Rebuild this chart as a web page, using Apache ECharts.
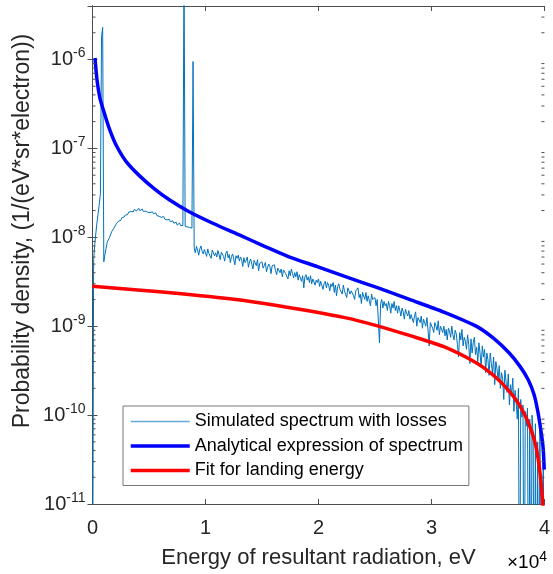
<!DOCTYPE html>
<html><head><meta charset="utf-8">
<script src="https://cdn.jsdelivr.net/npm/echarts@6/dist/echarts.min.js"></script>
<style>html,body{margin:0;padding:0;background:#fff}#c{width:553px;height:574px}</style>
</head><body><div id="c"></div>
<script>
const FONT = '"Liberation Sans", Arial, Helvetica, sans-serif';

// x axis: 0..4 (x10^4 eV)
const xTicks = [0, 10000, 20000, 30000, 40000];
// log y axis limits
const yMin = 1e-11, yMax = 4e-6;

const seriesNames = ['Simulated spectrum with losses', 'Analytical expression of spectrum', 'Fit for landing energy'];
const xTitle = 'Energy of resultant radiation, eV';
const yTitle = 'Probability density, (1/(eV*sr*electron))';

// Analytical expression of spectrum (eV, 1/(eV*sr*electron))
const analyticEnergy = [219, 400, 658, 1097, 1535, 2123, 3000, 4167, 5483, 6798, 8553, 10746, 12939, 15132, 17325, 19956, 22325, 25219, 28114, 31096, 33991, 35482, 36886, 37851, 38553, 39079, 39430, 39737, 39895, 39982];
const analyticValue = [1.04e-6, 5.9e-7, 3.69e-7, 2.38e-7, 1.61e-7, 1.07e-7, 7.05e-8, 4.91e-8, 3.51e-8, 2.64e-8, 1.94e-8, 1.42e-8, 1.07e-8, 8.02e-9, 6.08e-9, 4.66e-9, 3.63e-9, 2.71e-9, 1.99e-9, 1.44e-9, 9.95e-10, 7.33e-10, 5.0e-10, 3.51e-10, 2.51e-10, 1.70e-10, 1.07e-10, 6.04e-11, 4.1e-11, 2.44e-11];

// Fit for landing energy
const fitEnergy = [0, 5921, 12325, 16447, 22325, 25219, 28114, 31096, 33991, 35307, 36184, 37061, 37763, 38377, 38904, 39254, 39518, 39693, 39825, 39912];
const fitValue = [2.81e-9, 2.44e-9, 2.02e-9, 1.70e-9, 1.25e-9, 1.01e-9, 7.82e-10, 5.88e-10, 3.86e-10, 2.93e-10, 2.32e-10, 1.74e-10, 1.31e-10, 9.38e-11, 6.36e-11, 4.43e-11, 2.78e-11, 1.79e-11, 1.12e-11, 7.6e-12];

// Simulated spectrum with losses: 100 eV bins from 0 eV (1e-13 = empty bin, below axis)
const simBinWidth = 100;
const simValue = [
1e-13, 5.6e-9, 8.3e-9, 1.12e-8, 1.48e-8, 1.86e-8, 2.35e-8, 3.1e-8, 1.8e-6, 2.3e-6,
5.3e-9, 6.4e-9, 7.5e-9, 8.8e-9, 8.4e-9, 9.9e-9, 1.03e-8, 1.16e-8, 1.12e-8, 1.27e-8,
1.31e-8, 1.42e-8, 1.39e-8, 1.52e-8, 1.58e-8, 1.55e-8, 1.66e-8, 1.73e-8, 1.69e-8, 1.78e-8,
1.83e-8, 1.8e-8, 1.92e-8, 1.88e-8, 1.95e-8, 2.02e-8, 1.93e-8, 2.06e-8, 2.1e-8, 1.98e-8,
2.04e-8, 2.12e-8, 1.99e-8, 2.03e-8, 2.08e-8, 1.95e-8, 2.0e-8, 1.97e-8, 2.05e-8, 1.91e-8,
1.96e-8, 1.9e-8, 1.86e-8, 1.94e-8, 1.84e-8, 1.8e-8, 1.88e-8, 1.76e-8, 1.79e-8, 1.72e-8,
1.77e-8, 1.68e-8, 1.65e-8, 1.71e-8, 1.6e-8, 1.63e-8, 1.57e-8, 1.52e-8, 1.59e-8, 1.5e-8,
1.46e-8, 1.53e-8, 1.44e-8, 1.4e-8, 1.48e-8, 1.37e-8, 1.42e-8, 1.45e-8, 1.35e-8, 1.39e-8,
1.36e-8, 1.2e-5, 1.33e-8, 1.38e-8, 1.31e-8, 1.34e-8, 1.29e-8, 1.33e-8, 1.27e-8, 9.5e-7,
7.6e-9, 6.7e-9, 7.9e-9, 7.2e-9, 6.3e-9, 7.4e-9, 8.0e-9, 6.9e-9, 6.5e-9, 7.3e-9,
7.0e-9, 6.1e-9, 7.4e-9, 6.6e-9, 6.9e-9, 5.8e-9, 7.2e-9, 7.5e-9, 6.2e-9, 6.7e-9,
6.0e-9, 7.1e-9, 6.4e-9, 5.6e-9, 6.8e-9, 6.9e-9, 6.1e-9, 5.4e-9, 6.6e-9, 7.0e-9,
5.9e-9, 6.4e-9, 5.2e-9, 6.1e-9, 6.5e-9, 5.7e-9, 4.9e-9, 6.2e-9, 5.8e-9, 6.3e-9,
5.4e-9, 6.0e-9, 5.6e-9, 4.7e-9, 5.9e-9, 5.2e-9, 5.5e-9, 6.0e-9, 4.6e-9, 5.3e-9,
5.7e-9, 5.0e-9, 4.4e-9, 5.5e-9, 5.3e-9, 4.8e-9, 5.6e-9, 4.2e-9, 5.1e-9, 4.9e-9,
5.3e-9, 4.5e-9, 4.8e-9, 5.2e-9, 4.1e-9, 4.6e-9, 5.0e-9, 4.7e-9, 3.9e-9, 4.8e-9,
4.6e-9, 4.9e-9, 4.2e-9, 3.8e-9, 4.5e-9, 4.7e-9, 4.0e-9, 4.4e-9, 3.6e-9, 4.3e-9,
4.5e-9, 3.9e-9, 4.1e-9, 3.4e-9, 4.2e-9, 3.7e-9, 4.4e-9, 3.9e-9, 3.5e-9, 4.0e-9,
3.6e-9, 4.1e-9, 3.3e-9, 3.8e-9, 3.9e-9, 3.2e-9, 3.7e-9, 2.7e-9, 3.6e-9, 3.8e-9,
3.3e-9, 3.6e-9, 3.1e-9, 3.7e-9, 3.0e-9, 3.4e-9, 3.5e-9, 2.9e-9, 3.3e-9, 3.1e-9,
3.4e-9, 2.8e-9, 3.2e-9, 3.3e-9, 2.6e-9, 3.0e-9, 3.2e-9, 2.7e-9, 3.1e-9, 2.9e-9,
2.5e-9, 3.0e-9, 2.8e-9, 3.1e-9, 2.4e-9, 2.9e-9, 2.2e-9, 2.8e-9, 3.0e-9, 2.6e-9,
2.7e-9, 2.3e-9, 2.9e-9, 2.5e-9, 2.6e-9, 2.1e-9, 2.7e-9, 2.8e-9, 2.3e-9, 2.5e-9,
2.6e-9, 2.2e-9, 2.0e-9, 2.5e-9, 2.4e-9, 2.7e-9, 2.1e-9, 2.3e-9, 1.8e-9, 2.4e-9,
2.3e-9, 2.0e-9, 2.4e-9, 1.9e-9, 2.2e-9, 2.1e-9, 1.7e-9, 2.3e-9, 2.0e-9, 1.9e-9,
2.1e-9, 1.7e-9, 2.0e-9, 1.9e-9, 6.5e-10, 1.8e-9, 2.0e-9, 1.6e-9, 1.9e-9, 1.7e-9,
1.8e-9, 1.5e-9, 1.9e-9, 1.7e-9, 1.4e-9, 1.8e-9, 1.6e-9, 1.9e-9, 1.5e-9, 1.7e-9,
1.4e-9, 1.7e-9, 1.5e-9, 1.3e-9, 1.6e-9, 1.45e-9, 1.2e-9, 1.55e-9, 1.4e-9, 1.3e-9,
1.5e-9, 1.2e-9, 1.35e-9, 1.4e-9, 1.1e-9, 1.3e-9, 1.45e-9, 1.0e-9, 1.25e-9, 1.3e-9,
1.1e-9, 1.3e-9, 9.5e-10, 1.2e-9, 1.15e-9, 1.0e-9, 1.25e-9, 9.0e-10, 6.0e-10, 1.1e-9,
1.15e-9, 9.5e-10, 8.5e-10, 1.1e-9, 1.0e-9, 9.0e-10, 1.15e-9, 8.0e-10, 1.0e-9, 9.5e-10,
8.5e-10, 1.0e-9, 7.8e-10, 9.2e-10, 7.0e-10, 9.5e-10, 8.8e-10, 7.5e-10, 1.0e-9, 8.0e-10,
7.0e-10, 9.0e-10, 8.2e-10, 6.2e-10, 4.5e-10, 8.5e-10, 7.0e-10, 9.2e-10, 6.0e-10, 7.5e-10,
6.8e-10, 5.5e-10, 8.0e-10, 6.2e-10, 3.8e-10, 7.2e-10, 5.0e-10, 6.6e-10, 7.5e-10, 4.8e-10,
5.8e-10, 4.0e-10, 6.5e-10, 5.0e-10, 3.5e-10, 6.0e-10, 4.5e-10, 5.5e-10, 3.0e-10, 5.0e-10,
4.2e-10, 2.8e-10, 5.0e-10, 3.8e-10, 3.0e-10, 4.5e-10, 2.2e-10, 4.0e-10, 3.3e-10, 2.5e-10,
3.6e-10, 2.0e-10, 3.0e-10, 2.6e-10, 1.5e-10, 3.2e-10, 2.4e-10, 1.8e-10, 2.9e-10, 1.3e-10,
2.2e-10, 1.7e-10, 2.6e-10, 1.1e-10, 1.9e-10, 1.4e-10, 9.0e-11, 2.0e-10, 1e-13, 1.5e-10,
9.5e-11, 1.3e-10, 1e-13, 1.1e-10, 7.5e-11, 1.2e-10, 1e-13, 9e-11, 1e-13, 1.0e-10,
6e-11, 1e-13, 8e-11, 1e-13, 5e-11, 1e-13, 7e-11, 1e-13, 1e-13, 4e-11, 1e-13
];

const AX = '#4d4d4d', TX = '#262626';
const C_SIM = '#0072BD', C_AN = '#0000FF', C_FIT = '#FF0000';

// minor log ticks (2..9 x 10^k) - axis decoration
const minorTicks = [];
for (let k = -11; k <= -6; k++) for (let m = 2; m <= 9; m++) { const v = m * Math.pow(10, k); if (v < yMax) minorTicks.push([0, v]); }

const simData = simValue.map((v, i) => [i * simBinWidth, v]);
const analyticData = analyticEnergy.map((e, i) => [e, analyticValue[i]]);
const fitData = fitEnergy.map((e, i) => [e, fitValue[i]]);

const chart = echarts.init(document.getElementById('c'), null, {renderer: 'canvas'});

const yLabelFmt = function (val) {
  const e = Math.log10(val), r = Math.round(e);
  if (Math.abs(e - r) > 1e-6) return '';
  return '{b|10}{sup|' + r + '}';
};

const option = {
  animation: false,
  backgroundColor: '#fff',
  textStyle: {fontFamily: FONT},
  grid: {left: 92.5, right: 4.5, top: 6, bottom: 69.5, containLabel: false},
  legend: {
    orient: 'vertical', left: 123, top: 406,
    data: [
      {name: seriesNames[0], lineStyle: {color: C_SIM, width: 1.6, opacity: 0.6}},
      {name: seriesNames[1], lineStyle: {color: C_AN, width: 3.5}},
      {name: seriesNames[2], lineStyle: {color: C_FIT, width: 3.5}}
    ],
    itemWidth: 59, itemHeight: 18, itemGap: 6.5,
    padding: [6.5, 6, 6, 6],
    itemStyle: {opacity: 0},
    backgroundColor: '#fff', borderColor: '#777', borderWidth: 1, borderRadius: 0,
    textStyle: {fontFamily: FONT, fontSize: 18, color: '#000'},
    selectedMode: false
  },
  xAxis: [{
    type: 'value', min: 0, max: 40000, interval: 10000, position: 'bottom',
    axisLine: {show: true, lineStyle: {color: AX, width: 1}},
    axisTick: {show: true, inside: true, length: 5, lineStyle: {color: AX}},
    axisLabel: {formatter: v => String(v / 10000), fontSize: 20, color: TX, fontFamily: FONT, margin: 14},
    splitLine: {show: false},
    name: xTitle, nameLocation: 'middle', nameGap: 43,
    nameTextStyle: {fontSize: 22, color: TX, fontFamily: FONT}
  }, {
    type: 'value', min: 0, max: 40000, interval: 10000, position: 'top',
    axisLine: {show: true, lineStyle: {color: AX, width: 1}},
    axisTick: {show: true, inside: true, length: 5, lineStyle: {color: AX}},
    axisLabel: {show: false}, splitLine: {show: false}
  }],
  yAxis: [{
    type: 'log', logBase: 10, min: yMin, max: yMax, position: 'left',
    axisLine: {show: true, lineStyle: {color: AX, width: 1}},
    axisTick: {show: true, inside: true, length: 5, lineStyle: {color: AX}},
    axisLabel: {formatter: yLabelFmt, margin: 7, color: TX, fontFamily: FONT,
      rich: {b: {fontSize: 20, color: TX, fontFamily: FONT}, sup: {fontSize: 14, color: TX, fontFamily: FONT, padding: [0, 0, 12, 0]}}},
    splitLine: {show: false}
  }, {
    type: 'log', logBase: 10, min: yMin, max: yMax, position: 'right',
    axisLine: {show: true, lineStyle: {color: AX, width: 1}},
    axisTick: {show: true, inside: true, length: 5, lineStyle: {color: AX}},
    axisLabel: {show: false}, splitLine: {show: false}
  }],
  graphic: [{
    type: 'text', x: 547, y: 563,
    style: {text: '{m|×10}{sup|4}', textAlign: 'right', textVerticalAlign: 'middle',
      rich: {m: {fontSize: 19, color: TX, fontFamily: FONT}, sup: {fontSize: 14, color: TX, fontFamily: FONT, padding: [0, 0, 12, 0]}}}
  }, {
    type: 'text', x: 23, y: 231, rotation: Math.PI / 2,
    style: {text: yTitle, textAlign: 'center', textVerticalAlign: 'middle', fontSize: 23, fill: TX, fontFamily: FONT}
  }],
  series: [
    {name: seriesNames[0], type: 'line', data: simData, showSymbol: false, symbol: 'none',
      lineStyle: {color: C_SIM, width: 1}, itemStyle: {color: C_SIM}, clip: true, z: 2},
    {name: seriesNames[1], type: 'line', data: analyticData, showSymbol: false, symbol: 'none', smooth: 0.25,
      lineStyle: {color: C_AN, width: 3.5}, itemStyle: {color: C_AN}, clip: true, z: 3},
    {name: seriesNames[2], type: 'line', data: fitData, showSymbol: false, symbol: 'none', smooth: 0.25,
      lineStyle: {color: C_FIT, width: 3.5}, itemStyle: {color: C_FIT}, clip: true, z: 4},
    {type: 'custom', silent: true, clip: false, z: 5, data: minorTicks, encode: {x: 0, y: 1},
      renderItem: function (params, api) {
        const v = api.value(1);
        const pL = api.coord([0, v]);
        const pR = api.coord([40000, v]);
        return {type: 'group', children: [
          {type: 'line', shape: {x1: pL[0], y1: pL[1], x2: pL[0] + 3, y2: pL[1]}, style: {stroke: AX, lineWidth: 1}},
          {type: 'line', shape: {x1: pR[0] - 3, y1: pR[1], x2: pR[0], y2: pR[1]}, style: {stroke: AX, lineWidth: 1}}
        ]};
      }}
  ]
};
chart.setOption(option);
</script>
</body></html>
